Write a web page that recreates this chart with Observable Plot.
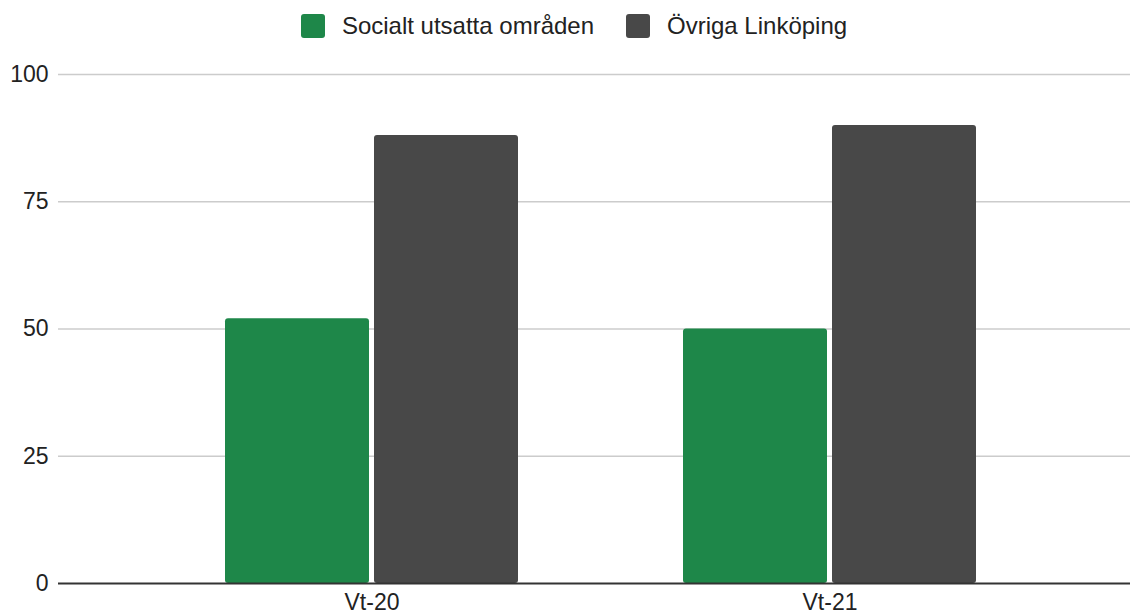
<!DOCTYPE html>
<html>
<head>
<meta charset="utf-8">
<script src="https://cdn.jsdelivr.net/npm/d3@7"></script>
<script src="https://cdn.jsdelivr.net/npm/@observablehq/plot@0.6"></script>
<style>
  html, body { margin: 0; padding: 0; background: #fff; }
  body { width: 1130px; height: 616px; overflow: hidden; font-family: "Liberation Sans", Arial, sans-serif; }
  #legend { height: 52px; box-sizing: border-box; padding-top: 0px; padding-bottom: 1px; padding-left: 18px; display: flex; justify-content: center; align-items: center; font-size: 24px; color: #222; }
  .item { display: flex; align-items: center; height: 24px; }
  .item + .item { margin-left: 32px; }
  .sw { width: 24px; height: 24px; border-radius: 3px; margin-right: 17px; }
  svg { display: block; }
</style>
</head>
<body>
<div id="legend"></div>
<div id="chart"></div>
<script>
const periods = ["Vt-20", "Vt-21"];
const series = ["Socialt utsatta områden", "Övriga Linköping"];
const socialtValues = [52, 50];
const ovrigaValues = [88, 90];
const yTicks = [0, 25, 50, 75, 100];
const colors = ["#1e8749", "#484848"];

const data = periods.flatMap((p, i) => [
  {period: p, series: series[0], value: socialtValues[i]},
  {period: p, series: series[1], value: ovrigaValues[i]}
]);

const legend = document.getElementById("legend");
series.forEach((s, i) => {
  const item = document.createElement("div");
  item.className = "item";
  const sw = document.createElement("div");
  sw.className = "sw";
  sw.style.background = colors[i];
  const label = document.createElement("span");
  label.textContent = s;
  item.appendChild(sw);
  item.appendChild(label);
  legend.appendChild(item);
});

const chart = Plot.plot({
  width: 1130,
  height: 564,
  marginLeft: 58,
  marginRight: 0,
  marginTop: 22,
  marginBottom: 33,
  style: {fontSize: "23px", fontFamily: "'Liberation Sans', Arial, sans-serif", color: "#222", background: "#fff"},
  x: {type: "band", domain: periods, range: [142.5, 1058.5], paddingInner: 0.36, paddingOuter: 0.18, tickSize: 0, tickPadding: 10, label: null},
  y: {domain: [0, 100], ticks: yTicks, tickSize: 0, tickPadding: 10, label: null},
  color: {domain: series, range: colors},
  marks: [
    Plot.ruleY(yTicks.filter(d => d > 0), {stroke: "#cccccc", strokeWidth: 1.5}),
    Plot.barY(data.filter(d => d.series === series[0]), {x: "period", y: "value", fill: "series", insetRight: 149, rx: 3}),
    Plot.barY(data.filter(d => d.series === series[1]), {x: "period", y: "value", fill: "series", insetLeft: 149, rx: 3}),
    Plot.ruleY([0], {stroke: "#333", strokeWidth: 2})
  ]
});
document.getElementById("chart").appendChild(chart);
</script>
</body>
</html>
